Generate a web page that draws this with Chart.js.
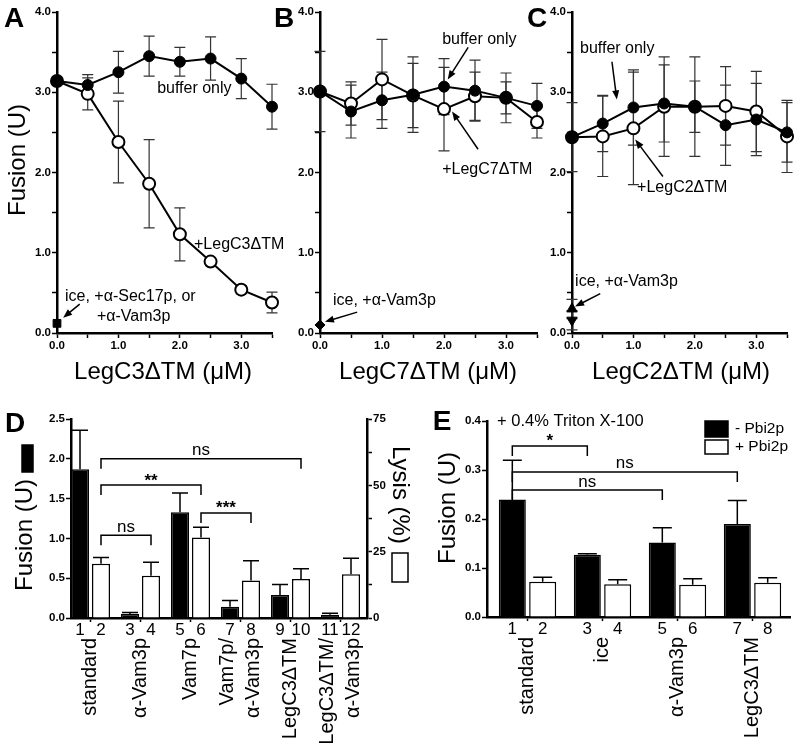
<!DOCTYPE html>
<html>
<head>
<meta charset="utf-8">
<script src="https://cdn.jsdelivr.net/npm/chart.js@4.4.1/dist/chart.umd.min.js"></script>
<style>
  body { margin: 0; background: #fff; }
  #wrap { position: relative; width: 797px; height: 745px; }
  #wrap canvas { position: absolute; left: 0; top: 0; }
</style>
</head>
<body>
<div id="wrap">
  <canvas id="chartA" width="797" height="745"></canvas>
  <canvas id="chartB" width="797" height="745"></canvas>
  <canvas id="chartC" width="797" height="745"></canvas>
  <canvas id="chartD" width="797" height="745"></canvas>
  <canvas id="chartE" width="797" height="745"></canvas>
</div>
<script>
// --- A-C: fusion (U) vs. amount of Leg protein added (uM)
const conc = [0, 0.5, 1.0, 1.5, 2.0, 2.5, 3.0, 3.5];
const bufferA = [3.14, 3.09, 3.25, 3.45, 3.38, 3.42, 3.17, 2.82];
const bufferAErr = [0, 0.13, 0.26, 0.25, 0.18, 0.27, 0.25, 0.28];
const legC3 = [3.14, 2.98, 2.38, 1.86, 1.23, 0.89, 0.54, 0.38];
const legC3Err = [0, 0.2, 0.51, 0.55, 0.33, 0, 0.05, 0.13];
const iceA = 0.12;

const bufferB = [3.01, 2.76, 2.90, 2.97, 3.07, 3.02, 2.93, 2.83];
const bufferBErr = [0.5, 0.33, 0.35, 0.47, 0.35, 0.38, 0.31, 0.28];
const legC7 = [3.01, 2.86, 3.16, 2.96, 2.79, 2.95, 2.93, 2.63];
const legC7Err = [0, 0.27, 0.5, 0.4, 0.52, 0.3, 0.2, 0.2];
const iceB = 0.1;

const bufferC = [2.44, 2.61, 2.81, 2.86, 2.82, 2.59, 2.66, 2.50];
const bufferCErr = [0.43, 0.35, 0.47, 0.48, 0.32, 0.5, 0.45, 0.37];
const legC2 = [2.44, 2.45, 2.55, 2.82, 2.82, 2.83, 2.76, 2.45];
const legC2Err = [0, 0.5, 0.7, 0.62, 0.62, 0.49, 0.5, 0.45];
const iceC = [0.30, 0.16];
const iceCErr = [0.12, 0.12];

// --- D: fusion (black, left axis) and lysis (white, right axis)
const groupsD = [['standard'], ['α-Vam3p'], ['Vam7p'], ['Vam7p/', 'α-Vam3p'], ['LegC3ΔTM'], ['LegC3ΔTM/', 'α-Vam3p']];
const fusionD = [1.87, 0.05, 1.33, 0.14, 0.29, 0.04];
const fusionDErr = [0.49, 0.02, 0.24, 0.08, 0.13, 0.02];
const lysisD = [20.4, 15.9, 30.3, 14.1, 14.7, 16.5];
const lysisDErr = [2.4, 5.1, 3.9, 7.5, 3.9, 6.0];
const bracketsD = [[1, 3, 1.04, 'ns'], [1, 5, 1.67, '**'], [5, 7, 1.32, '***'], [1, 9, 2.0, 'ns']];

// --- E: + 0.4% Triton X-100
const groupsE = [['standard'], ['ice'], ['α-Vam3p'], ['LegC3ΔTM']];
const minusPbi2 = [0.24, 0.127, 0.152, 0.19];
const minusPbi2Err = [0.08, 0.002, 0.03, 0.048];
const plusPbi2 = [0.072, 0.067, 0.066, 0.07];
const plusPbi2Err = [0.009, 0.009, 0.012, 0.01];
const bracketsE = [[0, 2, 0.349, '*'], [0, 6, 0.296, 'ns'], [0, 4, 0.259, 'ns']];

const FONT = '"Liberation Sans", Arial, Helvetica, sans-serif';
Chart.defaults.font.family = FONT;
Chart.defaults.color = '#000';
Chart.defaults.animation = false;
Chart.defaults.events = [];
Chart.defaults.plugins.legend.display = false;
Chart.defaults.plugins.tooltip.enabled = false;

const pts = (xs, ys) => xs.map((x, i) => ({ x: x, y: ys[i] }));

function drawText(ctx, str, x, y, size, o) {
  o = o || {};
  ctx.save();
  ctx.font = (o.bold ? 'bold ' : '') + size + 'px ' + FONT;
  ctx.translate(x, y);
  ctx.rotate(o.rot || 0);
  ctx.textAlign = o.align || 'center';
  ctx.textBaseline = o.base || 'middle';
  ctx.fillStyle = '#000';
  ctx.fillText(str, 0, 0);
  ctx.restore();
}

function drawArrow(ctx, x1, y1, x2, y2) {
  const a = Math.atan2(y2 - y1, x2 - x1), L = 9, W = 3.5;
  ctx.save();
  ctx.strokeStyle = '#000';
  ctx.fillStyle = '#000';
  ctx.lineWidth = 1.5;
  ctx.beginPath();
  ctx.moveTo(x1, y1);
  ctx.lineTo(x2 - Math.cos(a) * L * 0.8, y2 - Math.sin(a) * L * 0.8);
  ctx.stroke();
  ctx.beginPath();
  ctx.moveTo(x2, y2);
  ctx.lineTo(x2 - Math.cos(a) * L - Math.sin(a) * W, y2 - Math.sin(a) * L + Math.cos(a) * W);
  ctx.lineTo(x2 - Math.cos(a) * L + Math.sin(a) * W, y2 - Math.sin(a) * L - Math.cos(a) * W);
  ctx.closePath();
  ctx.fill();
  ctx.restore();
}

function drawErrors(chart, cfg) {
  const ctx = chart.ctx;
  const both = cfg.errStyle === 'both';
  chart.data.datasets.forEach((ds, i) => {
    if (!ds.errors) return;
    const meta = chart.getDatasetMeta(i);
    const ys = meta.yScale;
    ctx.save();
    ctx.strokeStyle = both ? '#333' : '#000';
    ctx.lineWidth = both ? 1.2 : 1.5;
    meta.data.forEach((el, j) => {
      const e = ds.errors[j];
      if (!e) return;
      const v = ds.data[j].y;
      const top = ys.getPixelForValue(v + e);
      const bot = ys.getPixelForValue(both ? v - e : v);
      const c = cfg.cap;
      ctx.beginPath();
      ctx.moveTo(el.x, top); ctx.lineTo(el.x, bot);
      ctx.moveTo(el.x - c, top); ctx.lineTo(el.x + c, top);
      if (both) { ctx.moveTo(el.x - c, bot); ctx.lineTo(el.x + c, bot); }
      ctx.stroke();
    });
    ctx.restore();
  });
}

function extras(cfg) {
  return {
    id: 'extras',
    beforeDatasetsDraw(chart) { if (cfg.errStyle === 'both') drawErrors(chart, cfg); },
    afterDatasetsDraw(chart) { if (cfg.errStyle === 'up') drawErrors(chart, cfg); },
    afterDraw(chart) {
      const ctx = chart.ctx, xs = chart.scales.x, ys = chart.scales.y, area = chart.chartArea;
      (cfg.boxes || []).forEach(b => {
        ctx.save();
        ctx.fillStyle = b.fill;
        ctx.fillRect(b.x, b.y, b.w, b.h);
        ctx.strokeStyle = '#000';
        ctx.lineWidth = 1.5;
        ctx.strokeRect(b.x, b.y, b.w, b.h);
        ctx.restore();
      });
      (cfg.labels || []).forEach(t => drawText(ctx, t.text, t.x, t.y, t.size, t));
      (cfg.notes || []).forEach(n => drawText(ctx, n[0], xs.getPixelForValue(n[1]), ys.getPixelForValue(n[2]), 16, { align: 'left' }));
      (cfg.arrows || []).forEach(a => drawArrow(ctx, xs.getPixelForValue(a[0]), ys.getPixelForValue(a[1]), xs.getPixelForValue(a[2]), ys.getPixelForValue(a[3])));
      const barX = k => chart.getDatasetMeta(k % 2).data[Math.floor(k / 2)].x;
      if (cfg.groups) {
        const nBars = cfg.groups.length * 2;
        for (let k = 0; k < nBars; k++) drawText(ctx, String(k + 1), barX(k), area.bottom + 12, 17);
        cfg.groups.forEach((lines, i) => {
          const gx = xs.getPixelForValue(i);
          lines.forEach((s, j) => {
            const off = (j - (lines.length - 1) / 2) * 26;
            drawText(ctx, s, gx + off, area.bottom + 20, 20, { rot: -Math.PI / 2, align: 'right' });
          });
        });
      }
      (cfg.brackets || []).forEach(b => {
        const xa = barX(b[0]), xb = barX(b[1]), y = ys.getPixelForValue(b[2]);
        const star = b[3].charAt(0) === '*';
        ctx.save();
        ctx.strokeStyle = '#000';
        ctx.lineWidth = 1.5;
        ctx.beginPath();
        ctx.moveTo(xa, y + 10); ctx.lineTo(xa, y); ctx.lineTo(xb, y); ctx.lineTo(xb, y + 10);
        ctx.stroke();
        ctx.font = (star ? 'bold ' : '') + '17px ' + FONT;
        const m = ctx.measureText(b[3]);
        const base = y - 8 + (m.actualBoundingBoxAscent - m.actualBoundingBoxDescent) / 2;
        ctx.restore();
        drawText(ctx, b[3], (xa + xb) / 2, base, 17, { base: 'alphabetic', bold: star });
      });
    }
  };
}

function axis(o) {
  return {
    type: 'linear', min: o.min, max: o.max, position: o.position,
    offset: false,
    border: { color: '#000', width: 2.5 },
    grid: { offset: false, drawOnChartArea: false, tickLength: o.tick || 5, tickColor: '#000', tickWidth: 1.5 },
    ticks: {
      stepSize: o.step, autoSkip: false, maxRotation: 0, includeBounds: false,
      padding: 1, color: '#000', font: { size: 11.5, weight: 'bold' },
      callback: o.fmt
    },
    afterFit: s => { if (o.w !== undefined) s.width = o.w; if (o.h !== undefined) s.height = o.h; }
  };
}

const intLabel = v => Math.abs(v - Math.round(v)) < 1e-9 ? v.toFixed(1) : '';

// chart area in page pixels -> layout padding
function pad(L, T, R, B, yW, xH, y1W) {
  return { left: L - yW, top: T, right: 797 - R - (y1W || 0), bottom: 745 - B - xH };
}

function lineDatasets(buf, bufErr, leg, legErr) {
  return [
    { data: pts(conc, buf), errors: bufErr, borderColor: '#000', borderWidth: 2, pointRadius: 5.5,
      pointBackgroundColor: '#000', pointBorderColor: '#000', pointBorderWidth: 1, clip: false },
    { data: pts(conc, leg), errors: legErr, borderColor: '#000', borderWidth: 2, pointRadius: 6,
      pointBackgroundColor: '#fff', pointBorderColor: '#000', pointBorderWidth: 2, clip: false }
  ];
}

function lineChart(id, area, datasets, cfg) {
  return new Chart(document.getElementById(id), {
    type: 'line',
    data: { datasets: datasets },
    options: {
      responsive: false,
      layout: { padding: pad(area[0], area[1], area[2], area[3], 40, 40) },
      scales: {
        x: axis({ min: 0, max: 3.5, step: 0.5, fmt: intLabel, h: 40 }),
        y: axis({ min: 0, max: 4, step: 0.5, fmt: intLabel, w: 40 })
      }
    },
    plugins: [extras(cfg)]
  });
}

// Panel A
lineChart('chartA', [57, 12, 272, 333],
  lineDatasets(bufferA, bufferAErr, legC3, legC3Err).concat([
    { data: [{ x: 0, y: iceA }], showLine: false, pointStyle: 'rect', pointRadius: 5.5,
      pointBackgroundColor: '#000', pointBorderColor: '#000', clip: false }
  ]), {
    errStyle: 'both', cap: 5.5,
    labels: [
      { text: 'A', x: 14, y: 27, size: 28, bold: true, base: 'alphabetic' },
      { text: 'Fusion (U)', x: 18, y: 160, size: 24, rot: -Math.PI / 2 },
      { text: 'LegC3ΔTM (μM)', x: 163, y: 372, size: 24 }
    ],
    notes: [['buffer only', 1.63, 3.04], ['+LegC3ΔTM', 2.23, 1.1], ['ice, +α-Sec17p, or', 0.13, 0.45], ['+α-Vam3p', 0.65, 0.2]],
    arrows: [[0.37, 0.36, 0.1, 0.19]]
  });

// Panel B
lineChart('chartB', [320, 12, 537, 333],
  lineDatasets(bufferB, bufferBErr, legC7, legC7Err).concat([
    { data: [{ x: 0, y: iceB }], showLine: false, pointStyle: 'rectRot', pointRadius: 5,
      pointBackgroundColor: '#000', pointBorderColor: '#000', clip: false }
  ]), {
    errStyle: 'both', cap: 5.5,
    labels: [
      { text: 'B', x: 284, y: 27, size: 28, bold: true, base: 'alphabetic' },
      { text: 'LegC7ΔTM (μM)', x: 428, y: 372, size: 24 }
    ],
    notes: [['buffer only', 1.97, 3.66], ['+LegC7ΔTM', 1.97, 2.04], ['ice, +α-Vam3p', 0.21, 0.41]],
    arrows: [[2.39, 3.56, 2.06, 3.16], [2.55, 2.29, 2.13, 2.76], [0.6, 0.26, 0.08, 0.14]]
  });

// Panel C
lineChart('chartC', [572, 12, 787, 333],
  lineDatasets(bufferC, bufferCErr, legC2, legC2Err).concat([
    { data: [{ x: 0, y: iceC[0] }], errors: [iceCErr[0]], showLine: false, pointStyle: 'triangle', pointRadius: 6,
      pointBackgroundColor: '#000', pointBorderColor: '#000', clip: false },
    { data: [{ x: 0, y: iceC[1] }], errors: [iceCErr[1]], showLine: false, pointStyle: 'triangle', pointRotation: 180, pointRadius: 6,
      pointBackgroundColor: '#000', pointBorderColor: '#000', clip: false }
  ]), {
    errStyle: 'both', cap: 5.5,
    labels: [
      { text: 'C', x: 537, y: 27, size: 28, bold: true, base: 'alphabetic' },
      { text: 'LegC2ΔTM (μM)', x: 681, y: 372, size: 24 }
    ],
    notes: [['buffer only', 0.13, 3.54], ['+LegC2ΔTM', 1.06, 1.81], ['ice, +α-Vam3p', 0.05, 0.64]],
    arrows: [[0.65, 3.38, 0.73, 2.91], [1.48, 1.95, 1.03, 2.41], [0.46, 0.49, 0.05, 0.33]]
  });

// Panel D
new Chart(document.getElementById('chartD'), {
  type: 'bar',
  data: {
    datasets: [
      { data: groupsD.map((g, i) => ({ x: i, y: fusionD[i] })), errors: fusionDErr, yAxisID: 'y',
        backgroundColor: '#000', borderColor: '#000', borderWidth: 1.5, clip: false },
      { data: groupsD.map((g, i) => ({ x: i, y: lysisD[i] })), errors: lysisDErr, yAxisID: 'y1',
        backgroundColor: '#fff', borderColor: '#000', borderWidth: 1.5, clip: false }
    ]
  },
  options: {
    responsive: false,
    categoryPercentage: 0.84,
    barPercentage: 0.86,
    layout: { padding: pad(71, 419, 367, 618, 45, 40, 40) },
    scales: {
      x: axis({ min: -0.39, max: 5.53, step: 1, fmt: () => '', h: 40, tick: 4 }),
      y: axis({ min: 0, max: 2.5, step: 0.5, fmt: v => v.toFixed(1), w: 45 }),
      y1: axis({ min: 0, max: 75, step: 12.5, position: 'right', w: 40,
        fmt: v => (v % 25 === 0 ? String(v) : '') })
    }
  },
  plugins: [extras({
    errStyle: 'up', cap: 8,
    groups: groupsD,
    brackets: bracketsD,
    boxes: [{ x: 22, y: 445, w: 11, h: 27, fill: '#000' }, { x: 392, y: 553, w: 16, h: 29, fill: '#fff' }],
    labels: [
      { text: 'D', x: 15, y: 432, size: 28, bold: true, base: 'alphabetic' },
      { text: 'Fusion (U)', x: 25, y: 535, size: 24, rot: -Math.PI / 2 },
      { text: 'Lysis (%)', x: 400, y: 495, size: 24, rot: Math.PI / 2 }
    ]
  })]
});

// Panel E
new Chart(document.getElementById('chartE'), {
  type: 'bar',
  data: {
    datasets: [
      { data: groupsE.map((g, i) => ({ x: i, y: minusPbi2[i] })), errors: minusPbi2Err,
        backgroundColor: '#000', borderColor: '#000', borderWidth: 1.5, clip: false },
      { data: groupsE.map((g, i) => ({ x: i, y: plusPbi2[i] })), errors: plusPbi2Err,
        backgroundColor: '#fff', borderColor: '#000', borderWidth: 1.5, clip: false }
    ]
  },
  options: {
    responsive: false,
    categoryPercentage: 0.81,
    barPercentage: 0.89,
    layout: { padding: pad(487, 421, 790, 617, 45, 40) },
    scales: {
      x: axis({ min: -0.54, max: 3.5, step: 1, fmt: () => '', h: 40, tick: 4 }),
      y: axis({ min: 0, max: 0.4, step: 0.1, fmt: v => v.toFixed(1), w: 45 })
    }
  },
  plugins: [extras({
    errStyle: 'up', cap: 9.5,
    groups: groupsE,
    brackets: bracketsE,
    boxes: [{ x: 705, y: 421, w: 23, h: 16, fill: '#000' }, { x: 705, y: 440, w: 23, h: 14, fill: '#fff' }],
    labels: [
      { text: 'E', x: 442, y: 430, size: 28, bold: true, base: 'alphabetic' },
      { text: 'Fusion (U)', x: 448, y: 508, size: 24, rot: -Math.PI / 2 },
      { text: '+ 0.4% Triton X-100', x: 497, y: 421, size: 16.5, align: 'left' },
      { text: '- Pbi2p', x: 735, y: 429, size: 15.5, align: 'left' },
      { text: '+ Pbi2p', x: 735, y: 447, size: 15.5, align: 'left' }
    ]
  })]
});
</script>
</body>
</html>
